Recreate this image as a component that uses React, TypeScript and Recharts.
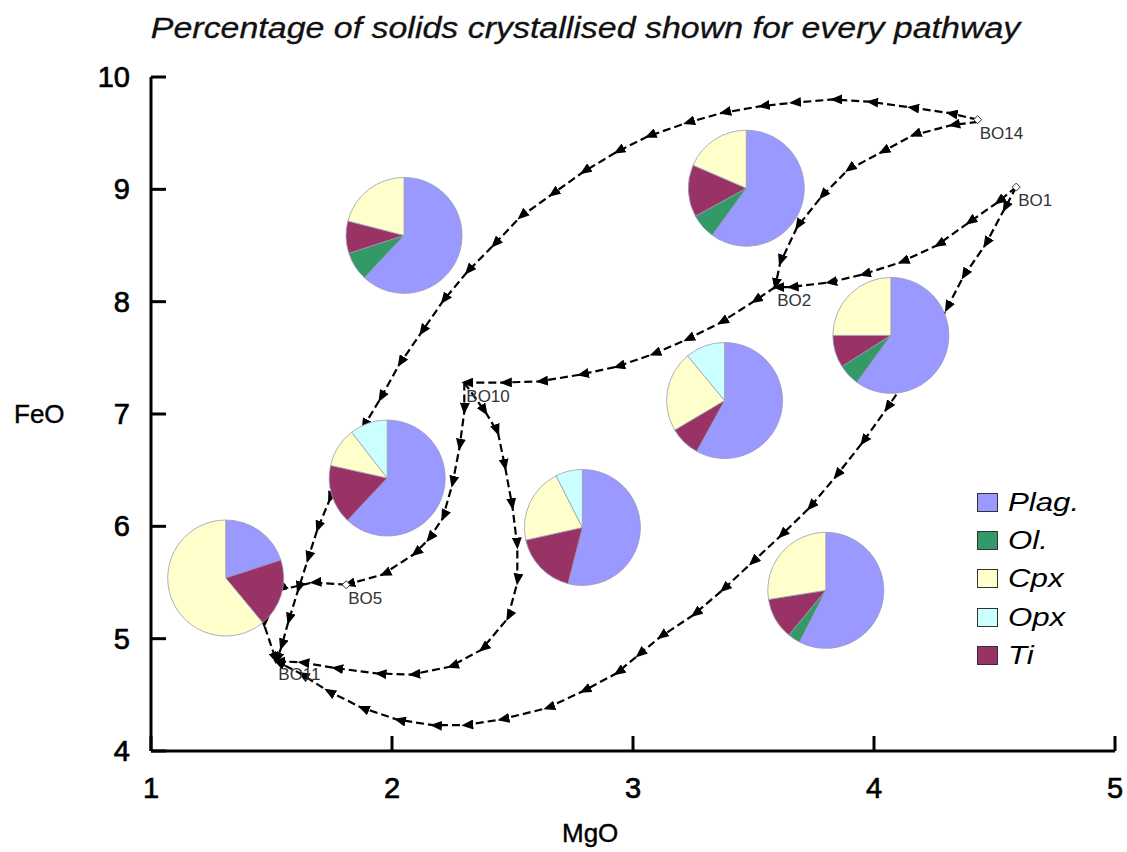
import React from 'react';
import { ScatterChart, Scatter, XAxis, YAxis, Sector, Legend } from 'recharts';

// legend categories
const minerals = ['Plag.', 'Ol.', 'Cpx', 'Opx', 'Ti'];
const mineralKeys = ['plag', 'ol', 'cpx', 'opx', 'ti'];
const mineralColors = ['#9999ff', '#339966', '#ffffcc', '#ccffff', '#993366'];
// order the slices are laid out clockwise from 12 o'clock
const sliceOrder = ['plag', 'ol', 'ti', 'cpx', 'opx'];

const xTicks = [1, 2, 3, 4, 5];
const yTicks = [4, 5, 6, 7, 8, 9, 10];

// pie positions (MgO, FeO) and % of solids
const pies = [
  { x: 3.47, y: 9.01, plag: 60, ol: 7, ti: 14.5, cpx: 18.5, opx: 0 },
  { x: 2.05, y: 8.59, plag: 62, ol: 8, ti: 9, cpx: 21, opx: 0 },
  { x: 4.07, y: 7.7, plag: 60, ol: 6, ti: 9, cpx: 25, opx: 0 },
  { x: 3.38, y: 7.12, plag: 58, ol: 0, ti: 8.5, cpx: 22.5, opx: 11 },
  { x: 2.79, y: 5.99, plag: 54, ol: 0, ti: 17.5, cpx: 21, opx: 7.5 },
  { x: 1.98, y: 6.43, plag: 62, ol: 0, ti: 16.5, cpx: 11, opx: 10.5 },
  { x: 1.31, y: 5.54, plag: 20, ol: 0, ti: 19, cpx: 61, opx: 0 },
  { x: 3.8, y: 5.43, plag: 57.5, ol: 3.5, ti: 11.5, cpx: 27.5, opx: 0 },
];

const sites = [
  { x: 4.43, y: 9.62, name: 'BO14', start: true },
  { x: 4.59, y: 9.02, name: 'BO1', start: true },
  { x: 3.59, y: 8.13, name: 'BO2', start: false },
  { x: 2.3, y: 7.28, name: 'BO10', start: false },
  { x: 1.81, y: 5.48, name: 'BO5', start: true },
  { x: 1.52, y: 4.8, name: 'BO11', start: false },
];

// pathways, listed in direction of travel
const pathBO14Top = [
  [4.43, 9.62], [4.31, 9.68], [4.15, 9.73], [3.98, 9.78], [3.83, 9.8], [3.66, 9.77],
  [3.53, 9.74], [3.37, 9.68], [3.22, 9.59], [3.06, 9.47], [2.93, 9.33], [2.79, 9.15],
  [2.66, 8.95], [2.53, 8.75], [2.42, 8.5], [2.31, 8.26], [2.21, 8.0], [2.12, 7.72],
  [2.03, 7.44], [1.95, 7.13], [1.88, 6.88], [1.81, 6.57], [1.74, 6.23], [1.69, 5.97],
  [1.65, 5.7], [1.61, 5.43], [1.57, 5.15], [1.54, 4.92], [1.52, 4.8],
];
const pathBO14ToBO2 = [
  [4.43, 9.6], [4.32, 9.57], [4.16, 9.48], [4.03, 9.33], [3.89, 9.17], [3.78, 8.93],
  [3.68, 8.66], [3.61, 8.34], [3.59, 8.13],
];
const pathBO1ToBO2 = [
  [4.59, 9.02], [4.51, 8.88], [4.39, 8.7], [4.26, 8.5], [4.11, 8.35], [3.95, 8.24],
  [3.81, 8.17], [3.65, 8.13], [3.59, 8.13],
];
const pathBO2ToBO10 = [
  [3.59, 8.13], [3.5, 8.0], [3.36, 7.81], [3.22, 7.66], [3.08, 7.53], [2.93, 7.42],
  [2.78, 7.35], [2.61, 7.29], [2.46, 7.28], [2.3, 7.28],
];
const pathBO10ToBO5 = [
  [2.3, 7.28], [2.3, 7.02], [2.28, 6.7], [2.25, 6.37], [2.21, 6.07], [2.15, 5.88],
  [2.09, 5.75], [1.96, 5.57], [1.81, 5.48],
];
const pathBO5ToBO11 = [
  [1.81, 5.48], [1.67, 5.5], [1.53, 5.43], [1.47, 5.12], [1.52, 4.8],
];
const pathBO10ToBO11 = [
  [2.3, 7.28], [2.39, 7.01], [2.44, 6.83], [2.47, 6.52], [2.5, 6.17], [2.52, 5.82],
  [2.52, 5.5], [2.48, 5.18], [2.37, 4.9], [2.24, 4.75], [2.08, 4.68], [1.94, 4.69],
  [1.76, 4.74], [1.62, 4.79], [1.52, 4.8],
];
const pathBO1Low = [
  [4.59, 9.02], [4.54, 8.82], [4.46, 8.5], [4.37, 8.22], [4.3, 7.93], [4.22, 7.61],
  [4.14, 7.32], [4.05, 7.04], [3.95, 6.74], [3.84, 6.44], [3.73, 6.16], [3.61, 5.91],
  [3.49, 5.67], [3.37, 5.43], [3.25, 5.21], [3.11, 5.01], [3.02, 4.85], [2.93, 4.69],
  [2.79, 4.53], [2.64, 4.38], [2.45, 4.28], [2.3, 4.23], [2.17, 4.23], [2.02, 4.28],
  [1.87, 4.39], [1.73, 4.54], [1.62, 4.69], [1.52, 4.8],
];

const paths = [pathBO14Top, pathBO14ToBO2, pathBO1ToBO2, pathBO2ToBO10, pathBO10ToBO5, pathBO5ToBO11, pathBO10ToBO11, pathBO1Low];

const toPts = (arr: number[][]) => arr.map(([x, y]) => ({ x, y }));

const FONT = '"Liberation Sans", Arial, sans-serif';
const colorOf: Record<string, string> = {};
mineralKeys.forEach((k, i) => (colorOf[k] = mineralColors[i]));

function PieGlyph(props: any) {
  const { cx, cy, payload } = props;
  const total = sliceOrder.reduce((s, k) => s + payload[k], 0);
  let angle = 90;
  return (
    <g>
      {sliceOrder.map((k) => {
        const v = payload[k];
        if (!v) return null;
        const start = angle;
        angle -= (v / total) * 360;
        return (
          <Sector key={k} cx={cx} cy={cy} innerRadius={0} outerRadius={58}
            startAngle={start} endAngle={angle} fill={colorOf[k]} stroke="#9a9ab8" strokeWidth={0.8} />
        );
      })}
    </g>
  );
}

function SiteGlyph(props: any) {
  const { cx, cy, payload } = props;
  return (
    <g>
      {payload.start && (
        <polygon points={`${cx},${cy - 4} ${cx + 4},${cy} ${cx},${cy + 4} ${cx - 4},${cy}`}
          fill="#fff" stroke="#333" strokeWidth={1} />
      )}
      <text x={cx + 2} y={cy + 19} fontSize={17} fill="#333" fontFamily={FONT}>{payload.name}</text>
    </g>
  );
}

const tickText = { fontSize: 29, fontFamily: FONT, fill: '#000', stroke: '#000', strokeWidth: 0.7 };

const BottomTick = (props: any) => {
  const { x, y, payload } = props;
  return (
    <g>
      <line x1={x} y1={y} x2={x} y2={y - 15} stroke="#000" strokeWidth={3} />
      <text x={x} y={y + 47} textAnchor="middle" {...tickText}>{payload.value}</text>
    </g>
  );
};
const LeftTick = (props: any) => {
  const { x, y, payload } = props;
  return (
    <g>
      <line x1={x} y1={y} x2={x + 15} y2={y} stroke="#000" strokeWidth={3} />
      <text x={x - 21} y={y + 10} textAnchor="end" {...tickText}>{payload.value}</text>
    </g>
  );
};
const TopTick = (props: any) => {
  const { x, y } = props;
  return <line x1={x} y1={y} x2={x} y2={y + 15} stroke="#000" strokeWidth={3} />;
};
const RightTick = (props: any) => {
  const { x, y } = props;
  return <line x1={x} y1={y} x2={x - 15} y2={y} stroke="#000" strokeWidth={3} />;
};

const renderLegend = () => (
  <div style={{ fontFamily: FONT, fontStyle: 'italic', fontSize: 26, color: '#000' }}>
    {minerals.map((m, i) => (
      <div key={m} style={{ display: 'flex', alignItems: 'center', height: 38.3 }}>
        <span style={{ display: 'inline-block', width: 19, height: 17, background: mineralColors[i], border: '1px solid #333', marginRight: 10 }} />
        <span style={{ display: 'inline-block', transform: 'scaleX(1.2)', transformOrigin: 'left center' }}>{m}</span>
      </div>
    ))}
  </div>
);

const axisLine = { stroke: '#000', strokeWidth: 3 };

export default function App() {
  return (
    <div style={{ position: 'absolute', left: 0, top: 0, width: 1127, height: 852, background: '#fff', fontFamily: FONT }}>
      <div style={{ position: 'absolute', left: 0, width: 1172, top: 12, textAlign: 'center', fontSize: 29, fontStyle: 'italic', color: '#111', WebkitTextStroke: '0.3px #111' }}>
        <span style={{ display: 'inline-block', transform: 'scaleX(1.17)' }}>Percentage of solids crystallised shown for every pathway</span>
      </div>
      <div style={{ position: 'absolute', left: 14, top: 399, fontSize: 26, color: '#000', WebkitTextStroke: '0.4px #000' }}>FeO</div>
      <div style={{ position: 'absolute', left: 562, top: 818, fontSize: 26, color: '#000', WebkitTextStroke: '0.4px #000' }}>MgO</div>
      <ScatterChart width={1127} height={852} margin={{ top: 77, right: 12, bottom: 41, left: 91 }}>
        <defs>
          <marker id="arrowHead" viewBox="0 0 12 10" refX={9} refY={5} markerWidth={12} markerHeight={10}
            markerUnits="userSpaceOnUse" orient="auto">
            <path d="M0,0 L12,5 L0,10 z" fill="#000" />
          </marker>
        </defs>
        <XAxis type="number" dataKey="x" domain={[1, 5]} ticks={xTicks} allowDataOverflow interval={0}
          axisLine={axisLine} tickLine={false} tickSize={0} tickMargin={0} tick={<BottomTick />} height={60} />
        <XAxis xAxisId="top" orientation="top" type="number" dataKey="x" domain={[1, 5]} ticks={xTicks} allowDataOverflow interval={0}
          axisLine={axisLine} tickLine={false} tickSize={0} tickMargin={0} tick={<TopTick />} height={0} />
        <YAxis type="number" dataKey="y" domain={[4, 10]} ticks={yTicks} allowDataOverflow interval={0}
          axisLine={axisLine} tickLine={false} tickSize={0} tickMargin={0} tick={<LeftTick />} width={60} />
        <YAxis yAxisId="right" orientation="right" type="number" dataKey="y" domain={[4, 10]} ticks={yTicks} allowDataOverflow interval={0}
          axisLine={axisLine} tickLine={false} tickSize={0} tickMargin={0} tick={<RightTick />} width={0} />
        {paths.map((p, i) => (
          <Scatter key={'path' + i} data={toPts(p)} lineType="joint" isAnimationActive={false}
            line={{ stroke: '#000', strokeWidth: 2.2, strokeDasharray: '8 4', markerMid: 'url(#arrowHead)', markerEnd: 'url(#arrowHead)' }}
            shape={() => <g />} />
        ))}
        <Scatter data={pies} shape={<PieGlyph />} isAnimationActive={false} />
        <Scatter data={sites} shape={<SiteGlyph />} isAnimationActive={false} />
        <Legend layout="vertical" align="center" verticalAlign="middle" content={renderLegend}
          wrapperStyle={{ left: 977, top: 483, width: 140 }} />
      </ScatterChart>
    </div>
  );
}
